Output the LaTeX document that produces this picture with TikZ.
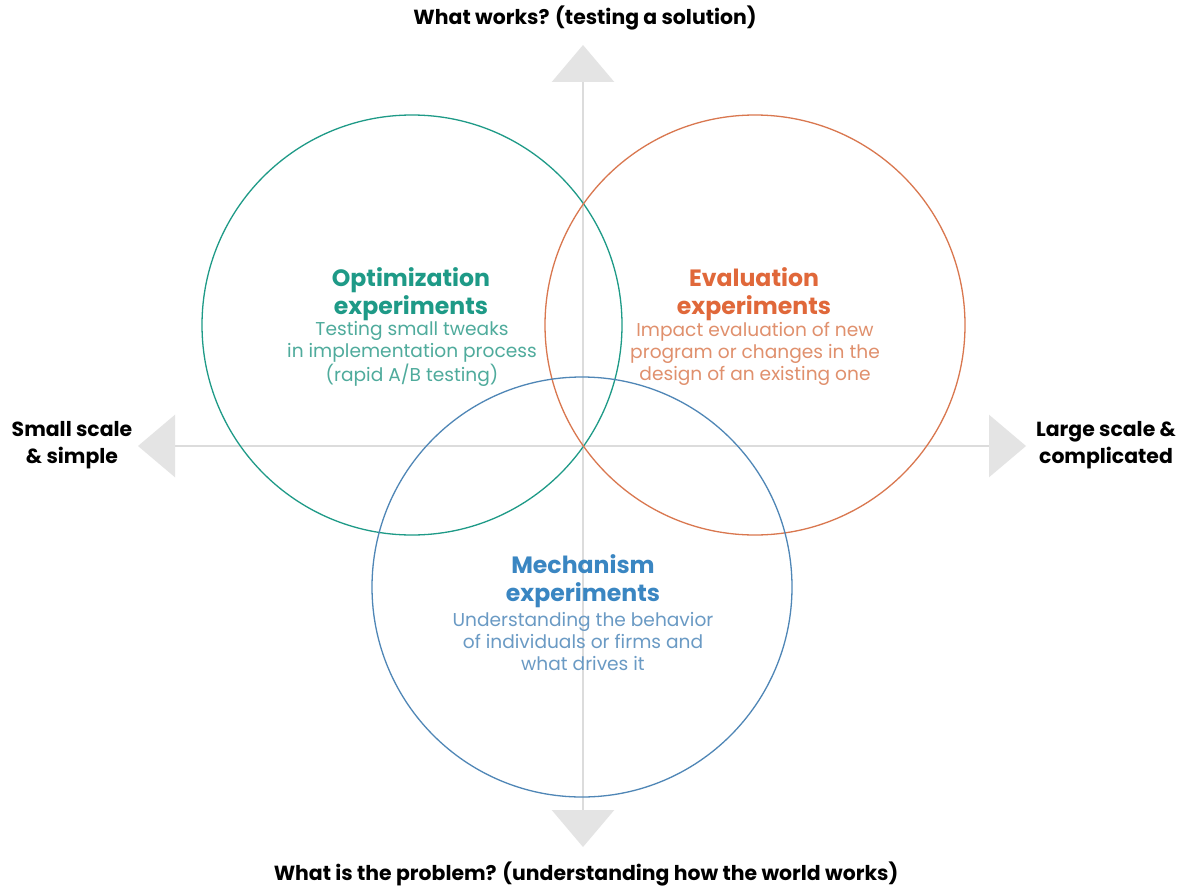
\documentclass[tikz,border=0pt]{standalone}
\usepackage{fontspec}
\setmainfont{Poppins}
\usetikzlibrary{arrows.meta,positioning}
\definecolor{optc}{HTML}{1E9A87}
\definecolor{optl}{HTML}{4FAB9C}
\definecolor{evac}{HTML}{E0683A}
\definecolor{evall}{HTML}{E0906D}
\definecolor{evar}{HTML}{D9774F}
\definecolor{mecc}{HTML}{3A86C2}
\definecolor{mecl}{HTML}{6A9AC4}
\definecolor{mecr}{HTML}{4F86B6}
\definecolor{axc}{HTML}{DCDCDC}
\definecolor{axh}{HTML}{E4E4E4}

\begin{document}
\begin{tikzpicture}[x=0.5pt,y=-0.5pt,
    axis/.style={draw=axc,line width=1.3pt,
      {Triangle[width=31pt,length=18.5pt,color=axh,fill=axh]}-{Triangle[width=31pt,length=18.5pt,color=axh,fill=axh]}},
    ring/.style={circle,minimum size=210pt,inner sep=0pt,line width=0.65pt},
    head/.style={font=\bfseries\fontsize{11.8}{14}\selectfont,align=center},
    body/.style={font=\fontsize{9.3}{11}\selectfont,align=center},
    side/.style={font=\bfseries\fontsize{10.2}{13.5}\selectfont,align=center}]

  \useasboundingbox[fill=white] (0,0) rectangle (1186,888);

  % axes
  \coordinate (top) at (583,45);
  \coordinate (bot) at (583,847);
  \coordinate (lft) at (138,446);
  \coordinate (rgt) at (1026,446);
  \draw[axis] (bot) -- (top);
  \draw[axis] (lft) -- (rgt);

  % circles
  \node[ring,draw=optc] (optring) at (412,325) {};
  \node[ring,draw=evar] (evaring) at (755,325) {};
  \node[ring,draw=mecr] (mecring) at (582,587) {};

  % axis labels
  \node[side] (ttl) at (585,18) {What works? (testing a solution)};
  \node[side] (btl) at (586,874) {What is the problem? (understanding how the world works)};
  \node[side] (ltl) at (72,445) {Small scale\\\& simple};
  \node[side] (rtl) at (1106,445) {Large scale \&\\complicated};

  % optimization
  \node[head,text=optc] (opt) at (411,294) {Optimization\\experiments};
  \node[body,text=optl] (optb) at (412,354) {Testing small tweaks\\in implementation process\\(rapid A/B testing)};

  % evaluation
  \node[head,text=evac] (eva) at (754,294) {Evaluation\\experiments};
  \node[body,text=evall] (evab) at (755,354) {Impact evaluation of new\\program or changes in the\\design of an existing one};

  % mechanism
  \node[head,text=mecc] (mec) at (583,581) {Mechanism\\experiments};
  \node[body,text=mecl] (mecb) at (583,641) {Understanding the behavior\\of individuals or firms and\\what drives it};

\end{tikzpicture}
\end{document}
